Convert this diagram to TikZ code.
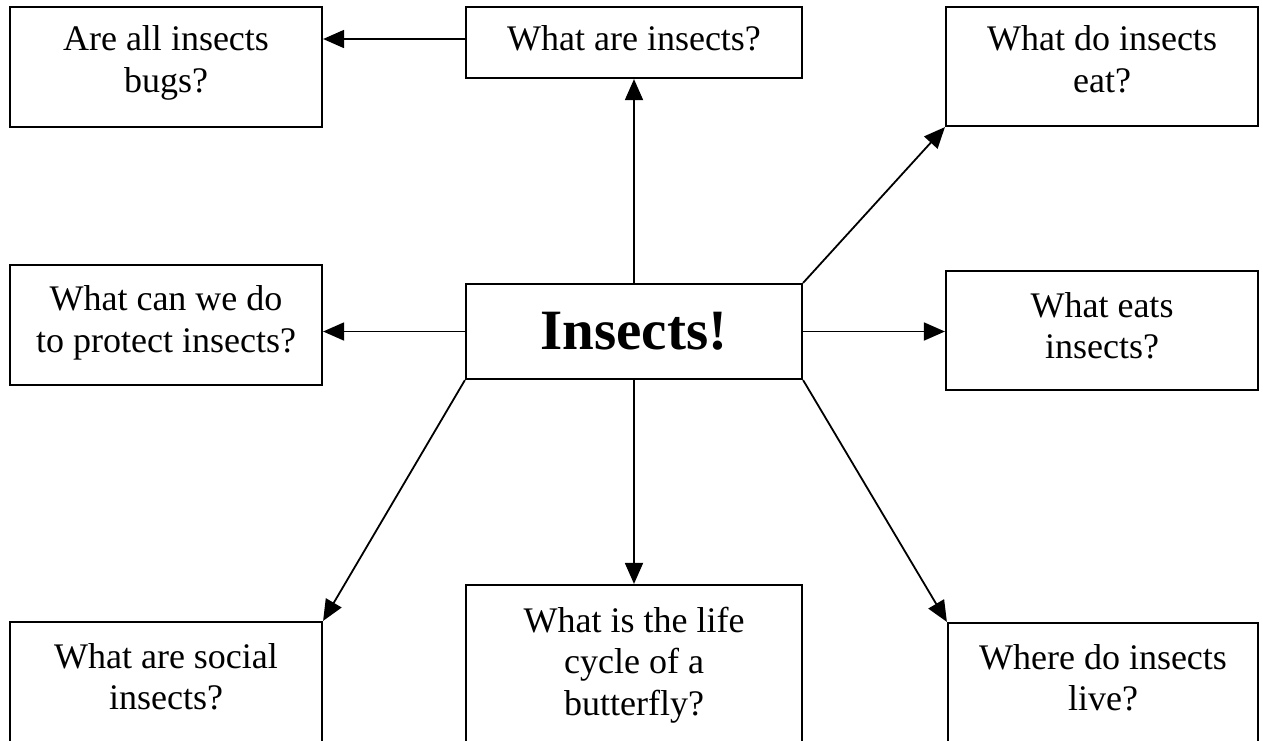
\documentclass[tikz,border=0pt]{standalone}
\usepackage{fontspec}
\setmainfont{Liberation Serif}
\usetikzlibrary{arrows.meta}
\begin{document}
\begin{tikzpicture}[x=1pt,y=-1pt,
  box/.style={draw,line width=2.2pt,inner sep=0pt,fill=white},
  txt/.style={font=\fontsize{36}{41.5}\selectfont,align=center,anchor=base,inner sep=0pt},
  conn/.style={line width=1.8pt,-{Triangle[length=21pt,width=18pt]}}]
\fill[white] (0,0) rectangle (1263,740);
\useasboundingbox (0,0) rectangle (1263,740);
% boxes
\node[box,minimum width=312pt,minimum height=120pt] (bugs) at (166,67) {};
\node[box,minimum width=336pt,minimum height=71pt] (whatare) at (634,42.5) {};
\node[box,minimum width=312pt,minimum height=119pt] (doeat) at (1102,66.5) {};
\node[box,minimum width=312pt,minimum height=120pt] (can) at (166,325) {};
\node[box,minimum width=336pt,minimum height=95pt] (ins) at (634,331.5) {};
\node[box,minimum width=312pt,minimum height=119pt] (eats) at (1102,330.5) {};
\node[box,minimum width=312pt,minimum height=140pt] (social) at (166,692) {};
\node[box,minimum width=336pt,minimum height=175pt] (life) at (634,672.5) {};
\node[box,minimum width=310pt,minimum height=137pt] (live) at (1103,691.5) {};
% texts (anchor base = baseline of the last line)
\node[txt] (tbugs) at (166,92) {Are all insects\\bugs?};
\node[txt] (twhatare) at (634,50) {What are insects?};
\node[txt] (tdoeat) at (1102,92) {What do insects\\eat?};
\node[txt] (tcan) at (166,352) {What can we do\\to protect insects?};
\node[txt] (teats) at (1102,358.5) {What eats\\insects?};
\node[txt] (tsocial) at (166,709.5) {What are social\\insects?};
\node[txt] (tlife) at (634,715) {What is the life\\cycle of a\\butterfly?};
\node[txt] (tlive) at (1103,710.5) {Where do insects\\live?};
\node[anchor=base,inner sep=0pt,font=\bfseries\fontsize{57}{60}\selectfont] (tins) at (634,349) {Insects!};
% connectors
\draw[conn] (whatare.west |- 0,39) -- (bugs.east |- 0,39);
\draw[conn] (ins.north) -- (whatare.south);
\draw[conn] (ins.north east) -- (doeat.south west);
\draw[conn] (ins.west) -- (can.east |- ins.west);
\draw[conn] (ins.east) -- (eats.west |- ins.east);
\draw[conn] (ins.south west) -- (social.north east);
\draw[conn] (ins.south) -- (life.north);
\draw[conn] (ins.south east) -- (live.north west);
\end{tikzpicture}
\end{document}
